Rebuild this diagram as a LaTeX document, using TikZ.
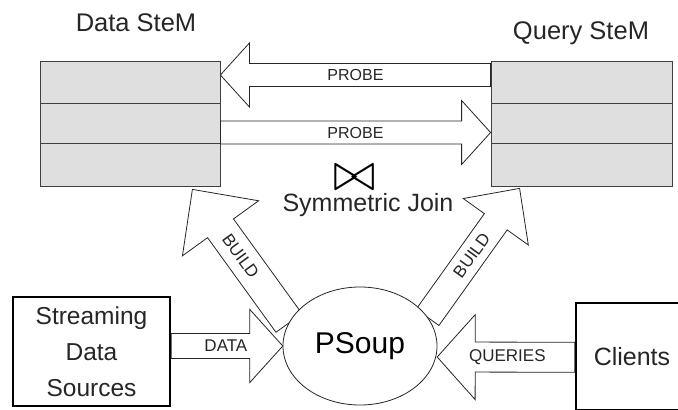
\documentclass[tikz,border=0pt]{standalone}
\usepackage{fontspec}
\usepackage{graphicx}
\setmainfont{Liberation Sans}
\usetikzlibrary{calc,shapes.geometric}
% #1 start coord, #2 tip coord, #3 shaft half width, #4 head half width, #5 head length
\newcommand{\blkarrow}[5]{%
  \coordinate (ba-b) at ($(#2)!#5!(#1)$);
  \draw[blockarrow] ($(#1)!#3!90:(#2)$) -- ($(ba-b)!#3!90:(#2)$) -- ($(ba-b)!#4!90:(#2)$) -- (#2)
    -- ($(ba-b)!#4!-90:(#2)$) -- ($(ba-b)!#3!-90:(#2)$) -- ($(#1)!#3!-90:(#2)$) -- cycle;}
\begin{document}
\begin{tikzpicture}[x=1pt,y=-1pt,
  stemrow/.style={draw=black!75,line width=0.8pt,fill=gray!25,rectangle,inner sep=0pt},
  blockarrow/.style={draw=black!85,line width=0.8pt,fill=white,line join=miter},
  srcbox/.style={draw=black,line width=2.4pt,rectangle,inner sep=0pt,fill=white},
  title/.style={font=\fontsize{25.5}{25.5}\selectfont,text=black!85,inner sep=0pt},
  lbl/.style={font=\fontsize{16}{16}\selectfont,text=black!85,inner sep=0pt},
  big/.style={font=\fontsize{24.5}{36}\selectfont,text=black!85,align=center}]
\useasboundingbox (0,0) rectangle (678,410);
% titles
\node[title] (dtitle) at (136,23) {Data SteM};
\node[title] (qtitle) at (581,33) {Query SteM};
% SteM rows
\node[stemrow,minimum width=180pt,minimum height=42pt] (d1) at (130,82) {};
\node[stemrow,minimum width=180pt,minimum height=40pt] (d2) at (130,123) {};
\node[stemrow,minimum width=180pt,minimum height=43pt] (d3) at (130,164.5) {};
\node[stemrow,minimum width=181pt,minimum height=42pt] (q1) at (581.5,82) {};
\node[stemrow,minimum width=181pt,minimum height=40pt] (q2) at (581.5,123) {};
\node[stemrow,minimum width=181pt,minimum height=43pt] (q3) at (581.5,164.5) {};
% probe arrows
\coordinate (p1s) at ([yshift=7pt]q1.west);
\coordinate (p1t) at ([yshift=7pt]d1.east);
\blkarrow{p1s}{p1t}{11.5pt}{32pt}{29pt}
\node[lbl] (p1l) at ($(p1s)!0.5!(p1t)$) {PROBE};
\coordinate (p2s) at ([yshift=-9.5pt]d2.east);
\coordinate (p2t) at ([yshift=-9.5pt]q2.west);
\blkarrow{p2s}{p2t}{11.5pt}{32pt}{29pt}
\node[lbl] (p2l) at ($(p2s)!0.5!(p2t)$) {PROBE};
% symmetric join
\node[inner sep=0pt] (bowtie) at (355,177.5) {\resizebox{42pt}{25pt}{$\bowtie$}};
\node[title,font=\fontsize{25}{25}\selectfont] (sjoin) at (368,205) {Symmetric Join};
% PSoup position (drawn later on top)
\path (360,346) node[ellipse,minimum width=154pt,minimum height=118pt,inner sep=0pt] (psoup) {};
% build arrows
\coordinate (b1s) at (psoup.162);
\coordinate (b1t) at ([xshift=-28pt,yshift=-3pt]d3.south east);
\blkarrow{b1s}{b1t}{16pt}{47pt}{48pt}
\node[lbl,font=\fontsize{17}{17}\selectfont,rotate=-54] (b1l) at ($(b1s)!0.5!(b1t)$) {BUILD};
\coordinate (b2s) at (psoup.23);
\coordinate (b2t) at ([xshift=29pt,yshift=-2pt]q3.south west);
\blkarrow{b2s}{b2t}{14pt}{40pt}{41pt}
\node[lbl,font=\fontsize{17}{17}\selectfont,rotate=54] (b2l) at ($(b2s)!0.48!(b2t)$) {BUILD};
% PSoup ellipse
\node[ellipse,draw=black!85,line width=0.8pt,fill=white,minimum width=154pt,minimum height=118pt,inner sep=0pt,
  font=\fontsize{30}{30}\selectfont] (psoupdraw) at (psoup.center) {PSoup};
% sources and clients
\node[srcbox,minimum width=157pt,minimum height=109pt] (sds) at (91.5,351.5) {};
\node[srcbox,minimum width=109pt,minimum height=107.5pt] (clients) at (630.5,356.75) {};
\node[big] (sdst) at (sds.center) {Streaming\\Data\\Sources};
\node[big,font=\fontsize{25}{25}\selectfont] (clt) at ([xshift=1.5pt]clients.center) {Clients};
% data arrow
\coordinate (das) at ([yshift=5.5pt]sds.east);
\coordinate (dat) at (psoup.west);
\blkarrow{das}{dat}{12.5pt}{36.5pt}{33pt}
\node[lbl,font=\fontsize{17}{17}\selectfont] (dal) at ($(das)!0.49!(dat)$) {DATA};
% queries arrow
\coordinate (qus) at ([yshift=-0.5pt]clients.west);
\coordinate (qut) at ([yshift=-11pt]psoup.east);
\blkarrow{qus}{qut}{15pt}{42.5pt}{38pt}
\node[lbl,font=\fontsize{17}{17}\selectfont] (qul) at ($(qus)!0.49!(qut)$) {QUERIES};
\end{tikzpicture}
\end{document}
